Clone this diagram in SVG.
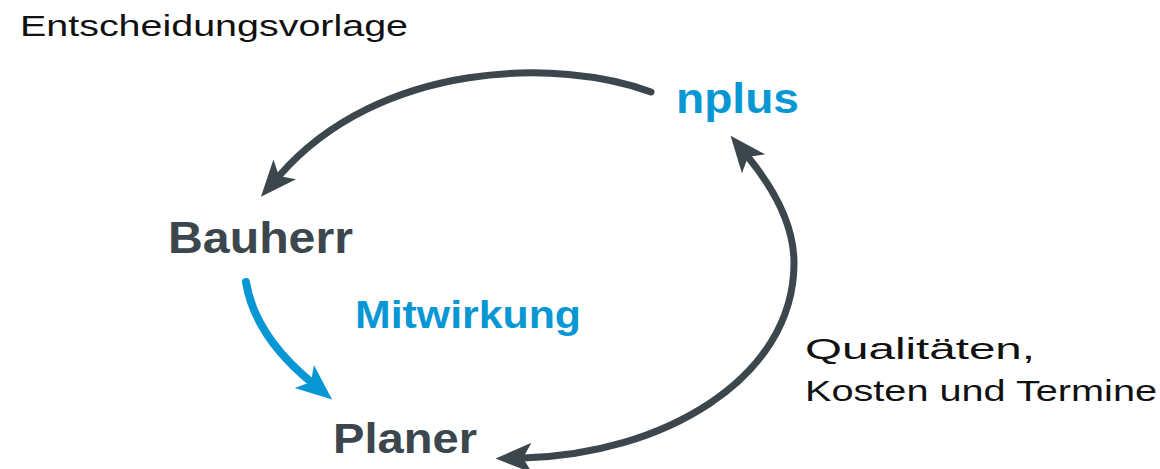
<svg xmlns="http://www.w3.org/2000/svg" width="1160" height="469" viewBox="0 0 1160 469">
<style>
.lbl{font-family:"Liberation Sans",Arial,sans-serif;font-size:30px;fill:#111}
.node{font-family:"Liberation Sans",Arial,sans-serif;font-weight:bold;fill:#3b464d}
.blue{fill:#0897d5}
.dk{fill:none;stroke:#3b464d;stroke-width:7;stroke-linecap:round}
.bl{fill:none;stroke:#0897d5;stroke-width:8;stroke-linecap:round}
</style>
<defs>
<marker id="ahd" markerUnits="userSpaceOnUse" markerWidth="40" markerHeight="40" viewBox="0 -14 32 28" refX="7" refY="0" orient="auto-start-reverse">
<path d="M0,-12 L29,0 L0,12 L7,0 Z" fill="#3b464d"/>
</marker>
<marker id="ahb" markerUnits="userSpaceOnUse" markerWidth="40" markerHeight="40" viewBox="0 -14 32 28" refX="7" refY="0" orient="auto">
<path d="M0,-12 L29,0 L0,12 L7,0 Z" fill="#0897d5"/>
</marker>
</defs>
<rect width="1160" height="469" fill="#fff"/>
<g id="connectors">
<path class="dk" d="M651,92 C560,58 380,60 279,176" marker-end="url(#ahd)"/>
<path class="dk" d="M748,157 C775,190 794,225 794,263 C794,380 660,455 523,458" marker-start="url(#ahd)" marker-end="url(#ahd)"/>
<path class="bl" d="M246,282 C252,320 275,352 311,382" marker-end="url(#ahb)"/>
</g>
<g id="label-entscheidung"><text class="lbl" x="20" y="36" textLength="388" lengthAdjust="spacingAndGlyphs">Entscheidungsvorlage</text></g>
<g id="node-nplus"><text class="node blue" x="676" y="113" font-size="42" textLength="123" lengthAdjust="spacingAndGlyphs">nplus</text></g>
<g id="node-bauherr"><text class="node" x="168" y="253" font-size="45" textLength="185" lengthAdjust="spacingAndGlyphs">Bauherr</text></g>
<g id="label-mitwirkung"><text class="node blue" x="355" y="328" font-size="38" textLength="226" lengthAdjust="spacingAndGlyphs">Mitwirkung</text></g>
<g id="node-planer"><text class="node" x="333" y="453" font-size="42" textLength="144" lengthAdjust="spacingAndGlyphs">Planer</text></g>
<g id="label-qualitaeten">
<text class="lbl" x="805" y="359" textLength="230" lengthAdjust="spacingAndGlyphs">Qualitäten,</text>
<text class="lbl" x="805" y="401" textLength="352" lengthAdjust="spacingAndGlyphs">Kosten und Termine</text>
</g>
</svg>
